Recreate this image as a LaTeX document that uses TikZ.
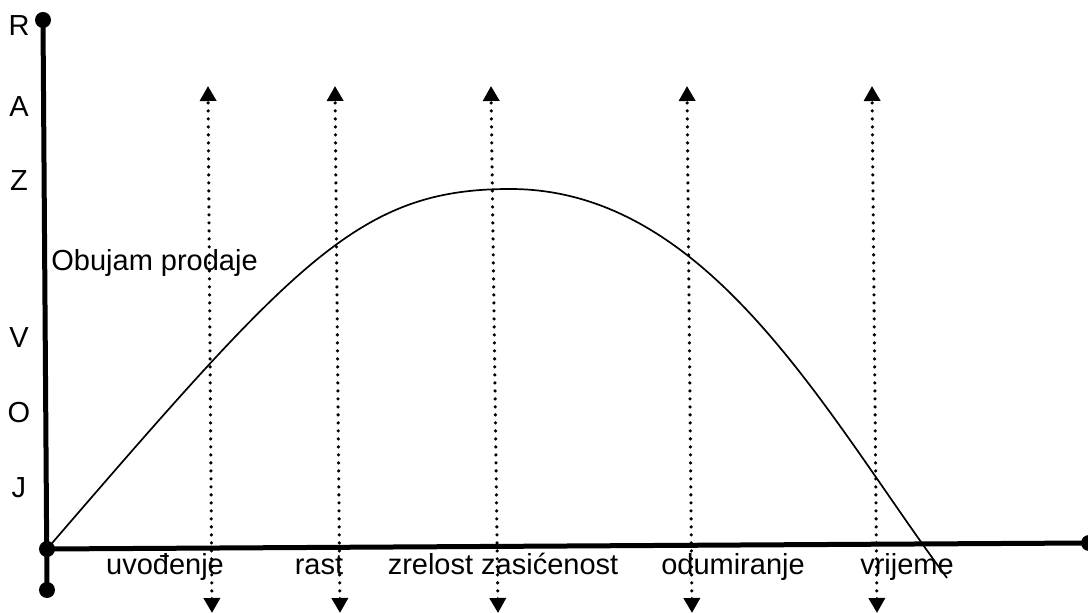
\documentclass[tikz,border=0pt]{standalone}
\usepackage{fontspec}
\setmainfont{Liberation Sans}
\usetikzlibrary{arrows.meta}

\begin{document}
\begin{tikzpicture}[
  x=0.5pt, y=-0.5pt,
  font=\fontsize{14.5}{17}\selectfont,
  axis/.style={line width=2.5pt},
  dotmark/.style={fill=black},
  phase/.style={line width=1.8pt, dash pattern=on 0pt off 4pt, line cap=round,
    {Triangle[length=7.5pt,width=8pt]}-{Triangle[length=7.5pt,width=8pt]}},
  letter/.style={anchor=center, inner sep=0pt},
  lbl/.style={anchor=base, inner sep=0pt}
]
\useasboundingbox (0,0) rectangle (1088,613);

% axes
\coordinate (ytop) at (43,20);
\coordinate (orig) at (47,549);
\coordinate (ybot) at (47,590);
\coordinate (xend) at (1089,543);
\draw[axis] (ytop) -- (ybot);
\draw[axis] (orig) -- (xend);
\foreach \p in {ytop,orig,ybot,xend}
  \fill[dotmark] (\p) circle (4pt);

% letters on the y axis
\node[letter] (lr) at (19,26) {R};
\node[letter] (la) at (19,107) {A};
\node[letter] (lz) at (19,181) {Z};
\node[letter] (lv) at (19,338) {V};
\node[letter] (lo) at (19,413) {O};
\node[letter] (lj) at (19,488) {J};
\node[anchor=west, inner sep=0pt] (obujam) at (51,263) {Obujam prodaje};

% phase borders
\coordinate (t1) at (208,86);  \coordinate (b1) at (212,613);
\coordinate (t2) at (335,86);  \coordinate (b2) at (340,613);
\coordinate (t3) at (491,86);  \coordinate (b3) at (498,613);
\coordinate (t4) at (687,86);  \coordinate (b4) at (692,613);
\coordinate (t5) at (872,86);  \coordinate (b5) at (877,613);
\foreach \i in {1,...,5}
  \draw[phase] (b\i) -- (t\i);

% sales curve
\coordinate (peak) at (510,189);
\coordinate (cend) at (947,578);
\draw[line width=0.85pt] (orig) .. controls (297,259) and (360,189) .. (peak)
  .. controls (710,189) and (827,416) .. (cend);

% phase names
\node[lbl] (uvod) at (165,575) {uvođenje};
\node[lbl] (rast) at (319,575) {rast};
\node[lbl] (zrel) at (503,575) {zrelost zasićenost};
\node[lbl] (odum) at (733,575) {odumiranje};
\node[lbl] (vrij) at (907,575) {vrijeme};

\end{tikzpicture}
\end{document}
